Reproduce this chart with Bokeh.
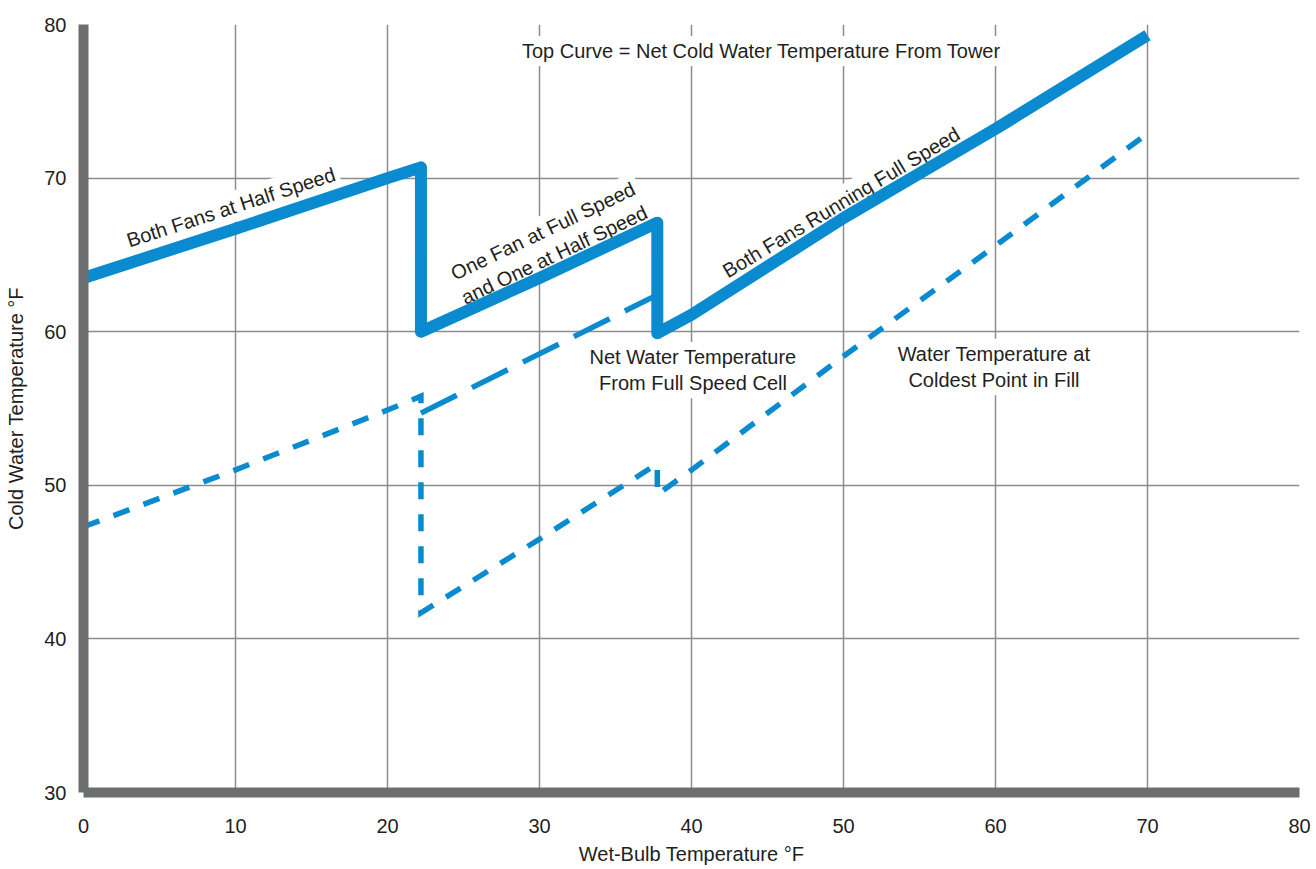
from bokeh.plotting import figure
from bokeh.models import Range1d, FixedTicker, ColumnDataSource
from bokeh.core.properties import value
from bokeh.embed import file_html
from bokeh.resources import INLINE

# ---- data ----
wet_bulb_top = [0, 10, 20, 22.2, 22.2, 30, 37.75, 37.75, 40, 50, 60, 70]
cold_top = [63.5, 66.7, 70.0, 70.7, 60.0, 63.5, 67.1, 59.9, 61.1, 67.4, 73.2, 79.3]

wet_bulb_cell = [22.2, 37.75]
cold_cell = [54.7, 62.4]

wet_bulb_fill = [0, 10, 20, 22.2, 22.2, 30, 37.75, 37.75, 40, 50, 60, 70]
cold_fill = [47.3, 51.0, 54.9, 55.8, 41.7, 46.5, 51.4, 49.4, 51.0, 58.4, 65.6, 72.9]

x_ticks = [0, 10, 20, 30, 40, 50, 60, 70, 80]
y_ticks = [30, 40, 50, 60, 70, 80]
x_grid = [10, 20, 30, 40, 50, 60, 70]
y_grid = [40, 50, 60, 70]

note_text = [
    "Top Curve = Net Cold Water Temperature From Tower",
    "Both Fans at Half Speed",
    "One Fan at Full Speed\nand One at Half Speed",
    "Both Fans Running Full Speed",
    "Net Water Temperature\nFrom Full Speed Cell",
    "Water Temperature at\nColdest Point in Fill",
]
note_x = [44.6, 9.7, 30.6, 49.85, 40.1, 59.9]
note_y = [78.27, 68.1, 65.78, 68.42, 57.5, 57.7]
note_angle = [0, 18, 25.5, 31, 0, 0]

# ---- styles ----
BLUE = "#0a8bcf"
TEXT = "#231f20"
AXIS = "#6d6e70"
GRID = "#8c8c8c"
FONT = "Liberation Sans"
FS = "20px"

p = figure(width=1316, height=869,
           x_range=Range1d(0, 80), y_range=Range1d(30, 80),
           output_backend="svg", toolbar_location=None,
           min_border_left=83, min_border_right=17,
           min_border_top=24, min_border_bottom=77)
p.outline_line_color = None
p.background_fill_color = "white"

p.xaxis.ticker = FixedTicker(ticks=x_ticks)
p.yaxis.ticker = FixedTicker(ticks=y_ticks)
p.xgrid.ticker = FixedTicker(ticks=x_grid)
p.ygrid.ticker = FixedTicker(ticks=y_grid)
for g in (p.xgrid, p.ygrid):
    g.grid_line_color = GRID
    g.grid_line_width = 1.5

for ax in (p.xaxis, p.yaxis):
    ax.axis_line_color = AXIS
    ax.axis_line_width = 10
    ax.major_tick_line_color = None
    ax.minor_tick_line_color = None
    ax.major_tick_in = 0
    ax.major_tick_out = 0
    ax.major_label_text_font = FONT
    ax.major_label_text_font_size = FS
    ax.major_label_text_color = TEXT
    ax.axis_label_text_font = FONT
    ax.axis_label_text_font_size = FS
    ax.axis_label_text_font_style = "normal"
    ax.axis_label_text_color = TEXT

p.xaxis.axis_label = "Wet-Bulb Temperature °F"
p.yaxis.axis_label = "Cold Water Temperature °F"
p.xaxis.major_label_standoff = 26
p.xaxis.axis_label_standoff = 7
p.yaxis.major_label_standoff = 17
p.yaxis.axis_label_standoff = 14

notes = ColumnDataSource(dict(x=note_x, y=note_y, text=note_text, angle=note_angle))
p.text(x="x", y="y", text="text", angle="angle", source=notes, angle_units="deg",
       text_font=value(FONT), text_font_size=FS, text_color=TEXT,
       text_align="center", text_baseline="middle", text_line_height=1.2,
       background_fill_color="white", padding=4)

p.line(wet_bulb_fill, cold_fill, line_color=BLUE, line_width=5.5,
       line_dash="17 15", line_join="miter", line_cap="butt")
p.line(wet_bulb_cell, cold_cell, line_color=BLUE, line_width=5.5,
       line_dash="40 17", line_cap="butt")
p.line(wet_bulb_top, cold_top, line_color=BLUE, line_width=12,
       line_join="round", line_cap="butt")

open("out.html", "w").write(file_html(p, INLINE))
